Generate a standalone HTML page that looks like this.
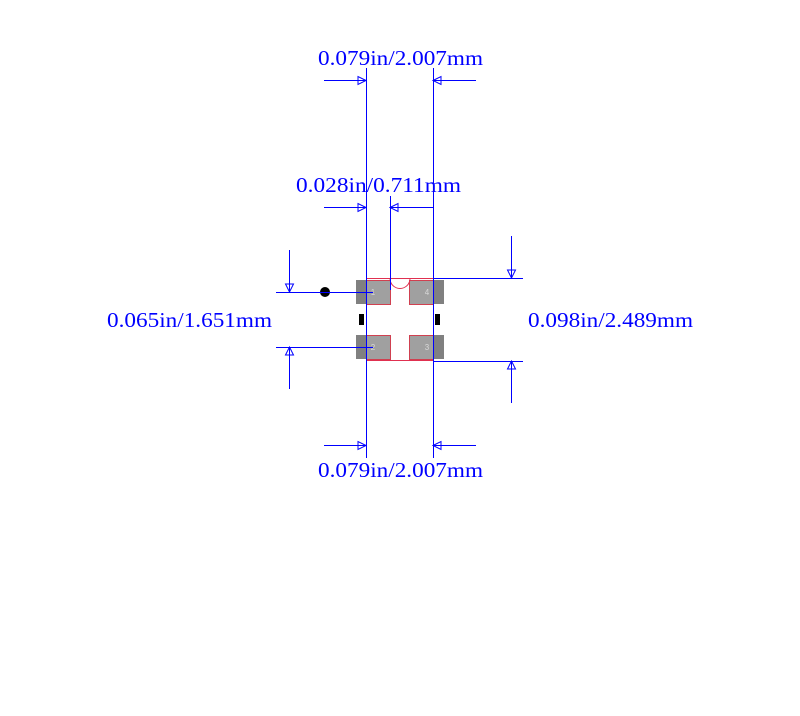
<!DOCTYPE html>
<html><head><meta charset="utf-8"><style>html,body{margin:0;padding:0;background:#fff}svg{display:block}</style></head>
<body>
<svg width="800" height="716" viewBox="0 0 800 716" xmlns="http://www.w3.org/2000/svg">
<rect width="800" height="716" fill="#fff"/>
<g fill="#808080">
<rect x="356" y="280" width="34" height="24"/>
<rect x="409" y="280" width="35" height="24"/>
<rect x="356" y="335" width="34" height="24"/>
<rect x="409" y="335" width="35" height="24"/>
</g>
<g fill="#a0a0a0" stroke="#d04050" stroke-width="1">
<rect x="366.5" y="280.5" width="24" height="24"/>
<rect x="409.5" y="280.5" width="24" height="24"/>
<rect x="366.5" y="335.5" width="24" height="24"/>
<rect x="409.5" y="335.5" width="24" height="24"/>
</g>
<g font-family="Liberation Sans, sans-serif" font-size="8" fill="#d8d8d8" text-anchor="middle">
<text x="373" y="295">1</text><text x="427" y="295">4</text>
<text x="373" y="350">2</text><text x="427" y="350">3</text>
</g>
<rect x="366.5" y="278.5" width="67" height="82" fill="none" stroke="#e03050" stroke-width="1"/>
<path d="M390 278.5 A10 10 0 0 0 410 278.5" fill="none" stroke="#e03050" stroke-width="1"/>
<rect x="359" y="314" width="5" height="11" fill="#000"/>
<rect x="435" y="314" width="5" height="11" fill="#000"/>
<circle cx="325" cy="292" r="5" fill="#000"/>
<g stroke="#0000ff" stroke-width="1" fill="none">
<line x1="366.5" y1="68" x2="366.5" y2="458"/>
<line x1="433.5" y1="68" x2="433.5" y2="458"/>
<line x1="390.5" y1="196" x2="390.5" y2="290"/>
<line x1="324" y1="80.5" x2="366" y2="80.5"/><line x1="433" y1="80.5" x2="476" y2="80.5"/>
<line x1="324" y1="207.5" x2="366" y2="207.5"/><line x1="390" y1="207.5" x2="433" y2="207.5"/>
<line x1="324" y1="445.5" x2="366" y2="445.5"/><line x1="433" y1="445.5" x2="476" y2="445.5"/>
<line x1="276" y1="292.5" x2="373" y2="292.5"/><line x1="276" y1="347.5" x2="373" y2="347.5"/>
<line x1="289.5" y1="250" x2="289.5" y2="292"/><line x1="289.5" y1="347" x2="289.5" y2="389"/>
<line x1="433" y1="278.5" x2="523" y2="278.5"/><line x1="433" y1="361.5" x2="523" y2="361.5"/>
<line x1="511.5" y1="236" x2="511.5" y2="278"/><line x1="511.5" y1="361" x2="511.5" y2="403"/>
<path d="M366 80.5 L358 76.5 L358 84.5 Z"/><path d="M433 80.5 L441 76.5 L441 84.5 Z"/>
<path d="M366 207.5 L358 203.5 L358 211.5 Z"/><path d="M390 207.5 L398 203.5 L398 211.5 Z"/>
<path d="M366 445.5 L358 441.5 L358 449.5 Z"/><path d="M433 445.5 L441 441.5 L441 449.5 Z"/>
<path d="M289.5 292 L285.5 284 L293.5 284 Z"/><path d="M289.5 347 L285.5 355 L293.5 355 Z"/>
<path d="M511.5 278 L507.5 270 L515.5 270 Z"/><path d="M511.5 361 L507.5 369 L515.5 369 Z"/>
</g>
<g font-family="Liberation Serif, serif" font-size="21" fill="#0000ff">
<text x="318" y="65" textLength="165" lengthAdjust="spacingAndGlyphs">0.079in/2.007mm</text>
<text x="296" y="192" textLength="165" lengthAdjust="spacingAndGlyphs">0.028in/0.711mm</text>
<text x="318" y="477" textLength="165" lengthAdjust="spacingAndGlyphs">0.079in/2.007mm</text>
<text x="107" y="327" textLength="165" lengthAdjust="spacingAndGlyphs">0.065in/1.651mm</text>
<text x="528" y="327" textLength="165" lengthAdjust="spacingAndGlyphs">0.098in/2.489mm</text>
</g>
</svg>
</body></html>
